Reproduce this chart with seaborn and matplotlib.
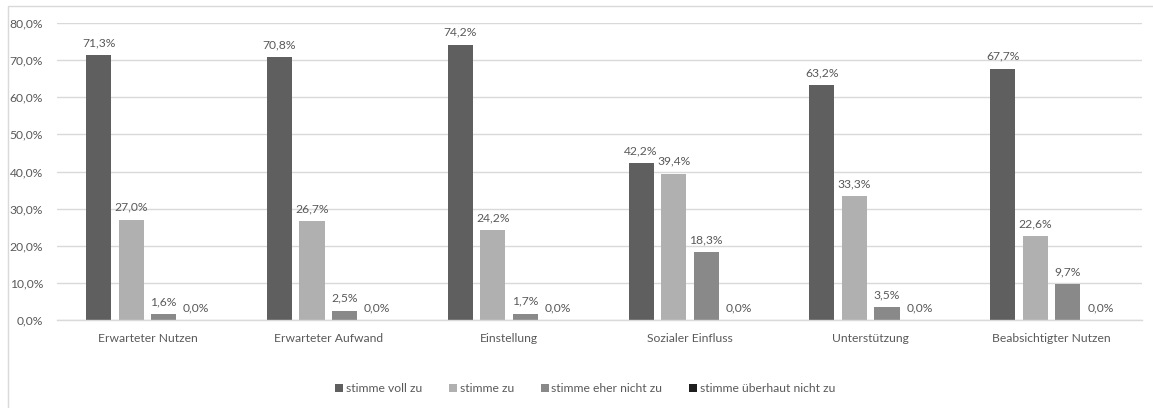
import matplotlib
matplotlib.use("Agg")
import matplotlib.pyplot as plt
import matplotlib.ticker as mticker
from matplotlib.lines import Line2D
import pandas as pd
import seaborn as sns

categories = ["Erwarteter Nutzen", "Erwarteter Aufwand", "Einstellung",
              "Sozialer Einfluss", "Unterstützung", "Beabsichtigter Nutzen"]
responses = ["stimme voll zu", "stimme zu", "stimme eher nicht zu",
             "stimme überhaut nicht zu"]
voll_zu = [71.3, 70.8, 74.2, 42.2, 63.2, 67.7]
zu = [27.0, 26.7, 24.2, 39.4, 33.3, 22.6]
eher_nicht = [1.6, 2.5, 1.7, 18.3, 3.5, 9.7]
ueberhaupt_nicht = [0.0, 0.0, 0.0, 0.0, 0.0, 0.0]
y_ticks = [0, 10, 20, 30, 40, 50, 60, 70, 80]

colors = ["#5f5f5f", "#b0b0b0", "#898989", "#1e1e1e"]
text_color = "#595959"

rows = []
for resp, vals in zip(responses, [voll_zu, zu, eher_nicht, ueberhaupt_nicht]):
    for cat, v in zip(categories, vals):
        rows.append({"Kategorie": cat, "Antwort": resp, "Anteil": v})
df = pd.DataFrame(rows)

sns.set_theme(style="white")
plt.rcParams["font.family"] = ["Lato", "DejaVu Sans"]

fig = plt.figure(figsize=(11.53, 4.08), dpi=100)
ax = fig.add_axes([57 / 1153, 1 - 320 / 408, (1142 - 57) / 1153, (320 - 23) / 408])

sns.barplot(data=df, x="Kategorie", y="Anteil", hue="Antwort",
            order=categories, hue_order=responses, palette=colors,
            width=0.72, gap=0.23, linewidth=0, errorbar=None, ax=ax,
            legend=False)

for container in ax.containers:
    ax.bar_label(container, labels=[f"{v:.1f}%".replace(".", ",") for v in container.datavalues],
                 padding=5, fontsize=8.7, color=text_color)

ax.set_ylim(0, 80)
ax.set_xlim(-0.5, len(categories) - 0.5)
ax.set_yticks(y_ticks)
ax.yaxis.set_major_formatter(mticker.FuncFormatter(lambda v, _: f"{v:.1f}%".replace(".", ",")))
ax.grid(axis="y", color="#d9d9d9", linewidth=1)
ax.set_axisbelow(True)
for side in ["top", "right", "left"]:
    ax.spines[side].set_visible(False)
ax.spines["bottom"].set_color("#d9d9d9")
ax.spines["bottom"].set_linewidth(1)
ax.tick_params(axis="both", length=0, labelsize=8.7, labelcolor=text_color)
ax.tick_params(axis="x", pad=9)
ax.tick_params(axis="y", pad=10)
ax.set_xlabel("")
ax.set_ylabel("")

handles = [Line2D([], [], marker="s", linestyle="none", markersize=6,
                  markerfacecolor=c, markeredgewidth=0) for c in colors]
fig.legend(handles, responses, loc="center", bbox_to_anchor=(585 / 1153, 1 - 389 / 408),
           ncol=4, frameon=False, fontsize=8.7, labelcolor=text_color,
           handlelength=0.7, handletextpad=0.2, columnspacing=2.2)

# chart frame
frame = plt.Rectangle((8 / 1153, -0.1), 1.2, 1 - 6 / 408 + 0.1, transform=fig.transFigure,
                      fill=False, edgecolor="#d9d9d9", linewidth=1)
fig.add_artist(frame)

fig.savefig("out.png", dpi=100, facecolor="white")
